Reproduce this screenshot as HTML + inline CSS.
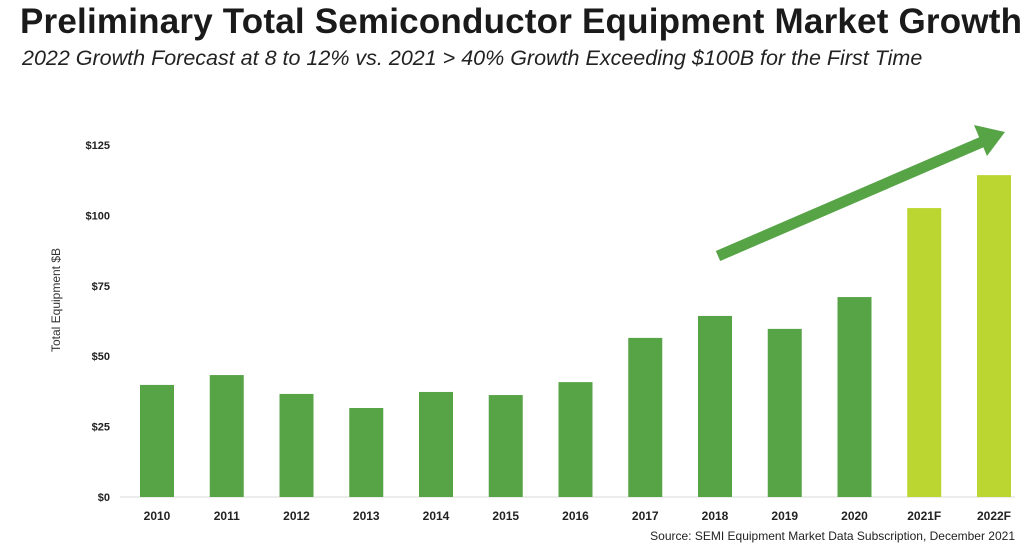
<!DOCTYPE html>
<html><head><meta charset="utf-8"><style>
body{margin:0;width:1024px;height:550px;background:#fff;overflow:hidden;font-family:"Liberation Sans",sans-serif}
#title{position:absolute;left:20px;top:2px;font-size:35px;font-weight:bold;color:#1a1a1a;letter-spacing:0.2px;white-space:nowrap}
#sub{position:absolute;left:22px;top:46px;font-size:21.5px;font-style:italic;color:#222;white-space:nowrap}
svg{position:absolute;left:0;top:0}
</style></head><body>
<div id="title">Preliminary Total Semiconductor Equipment Market Growth</div>
<div id="sub">2022 Growth Forecast at 8 to 12% vs. 2021 &gt; 40% Growth Exceeding $100B for the First Time</div>
<svg id="c" width="1024" height="550"></svg>
<script>
const categories=["2010","2011","2012","2013","2014","2015","2016","2017","2018","2019","2020","2021F","2022F"];
const values=[39.8,43.3,36.6,31.6,37.3,36.2,40.8,56.5,64.3,59.7,71.0,102.6,114.3];
const forecast=[false,false,false,false,false,false,false,false,false,false,false,true,true];
const yTicks=[0,25,50,75,100,125];
const yTickLabels=["$0","$25","$50","$75","$100","$125"];
const NS="http://www.w3.org/2000/svg";
const svg=document.getElementById('c');
const y0=497,yTop=145,vMax=125;
function y(v){return y0-(v/vMax)*(y0-yTop);}
function x(i){return 157+i*69.75;}
function mk(t,a,txt){const e=document.createElementNS(NS,t);for(const k in a)e.setAttribute(k,a[k]);if(txt!=null)e.textContent=txt;svg.appendChild(e);return e;}
const ax=mk('line',{x1:120,x2:1015,y1:y0,y2:y0,stroke:'#d9d9d9','stroke-width':1});


yTicks.forEach((t,i)=>{
 const e=mk('text',{x:110,y:y(t)+4,'text-anchor':'end','font-size':11,'font-weight':'bold',fill:'#222'},yTickLabels[i]);
 
 
});
const yt=mk('text',{x:0,y:0,transform:'translate(60,300) rotate(-90)','text-anchor':'middle','font-size':12,fill:'#333'},'Total Equipment $B');


values.forEach((v,i)=>{
 const r=mk('rect',{x:x(i)-17,y:y(v),width:34,height:y0-y(v),fill:forecast[i]?'#bcd631':'#57a447'});
 
 
 const l=mk('text',{x:x(i),y:520,'text-anchor':'middle','font-size':12,'font-weight':'bold',fill:'#222'},categories[i]);
 
 
});
const g=mk('g',{});


const ln=document.createElementNS(NS,'line');
ln.setAttribute('x1',718);ln.setAttribute('y1',256);ln.setAttribute('x2',982);ln.setAttribute('y2',142);
ln.setAttribute('stroke','#57a447');ln.setAttribute('stroke-width',11);g.appendChild(ln);
const hd=document.createElementNS(NS,'polygon');
hd.setAttribute('points','1005,132 974,125 987,156');hd.setAttribute('fill','#57a447');g.appendChild(hd);
const s=mk('text',{x:1015,y:540,'text-anchor':'end','font-size':12,fill:'#222'},'Source:  SEMI Equipment Market Data Subscription, December 2021');


</script>
</body></html>
